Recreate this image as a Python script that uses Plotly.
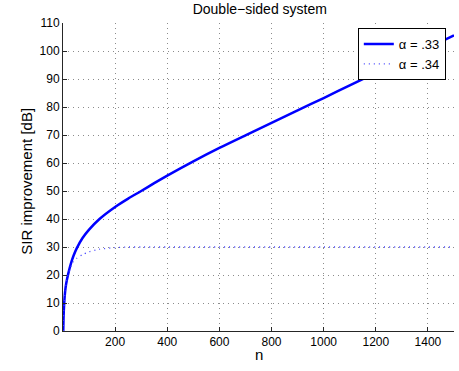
import plotly.graph_objects as go

# Data
n_values = [1, 2, 3, 5, 8, 12, 20, 30, 40, 53, 75, 100, 140, 200, 250, 300,
            350, 400, 500, 600, 700, 800, 900, 1000, 1100, 1200, 1300, 1400, 1500]
sir_a033 = [0, 4.5, 7, 10.5, 14, 16.8, 20.4, 24, 26.8, 29.6, 33.2, 36.2, 40, 44.3, 47.3, 50,
            52.8, 55.5, 60.6, 65.4, 69.9, 74.3, 78.8, 83.2, 87.7, 92.2, 96.6, 101.1, 105.6]
sir_a034 = [0, 4.5, 7, 10.5, 14, 16.8, 20.2, 23, 24.8, 26, 27.3, 28.3, 29.2, 29.8, 30, 30,
            30, 30, 30, 30, 30, 30, 30, 30, 30, 30, 30, 30, 30]

x_ticks = [200, 400, 600, 800, 1000, 1200, 1400]
y_ticks = list(range(0, 111, 10))

font_family = "Liberation Sans, Arial, Helvetica, sans-serif"

fig = go.Figure()
fig.add_trace(go.Scatter(x=n_values, y=sir_a033, mode="lines", name="α = .33",
                         line=dict(color="#0000ff", width=2.5, shape="spline", smoothing=0.8)))
fig.add_trace(go.Scatter(x=n_values, y=sir_a034, mode="lines", name="α = .34",
                         line=dict(color="#4040ff", width=1.3, dash="1px,4px",
                                   shape="spline", smoothing=0.6)))

grid = dict(showgrid=True, gridcolor="rgba(0,0,0,0.45)", gridwidth=1, griddash="1px,4px")

fig.update_layout(
    width=459, height=371,
    margin=dict(l=63, r=5, t=23, b=40, autoexpand=False),
    paper_bgcolor="white", plot_bgcolor="white",
    font=dict(family=font_family, color="#000000", size=12),
    title=dict(text="Double−sided system", x=0.566, xanchor="center",
               y=0.975, yanchor="middle", font=dict(size=14, family=font_family)),
    showlegend=True,
    legend=dict(x=0.754, y=0.984, xanchor="left", yanchor="top",
                bgcolor="white", bordercolor="black", borderwidth=1,
                font=dict(size=13, family=font_family),
                tracegroupgap=0, itemwidth=30),
    xaxis=dict(range=[0, 1500], tickvals=x_ticks, ticks="inside", ticklen=4,
               tickcolor="#262626", showline=True, linecolor="#262626", linewidth=1,
               zeroline=False, automargin=False, tickfont=dict(size=12), **grid),
    yaxis=dict(range=[0, 110], tickvals=y_ticks, ticks="inside", ticklen=4,
               tickcolor="#262626", showline=True, linecolor="#262626", linewidth=1,
               zeroline=False, automargin=False, tickfont=dict(size=12), **grid),
    annotations=[
        dict(text="n", xref="paper", yref="paper", x=0.5, y=-0.075,
             xanchor="center", yanchor="middle", showarrow=False,
             font=dict(size=15, family=font_family)),
        dict(text="SIR improvement [dB]", xref="paper", yref="paper", x=-0.092, y=0.485,
             xanchor="center", yanchor="middle", textangle=-90, showarrow=False,
             font=dict(size=15, family=font_family)),
    ],
)

fig.write_html("out.html", config={"displayModeBar": False},
               post_script="document.body.style.margin='0';")
